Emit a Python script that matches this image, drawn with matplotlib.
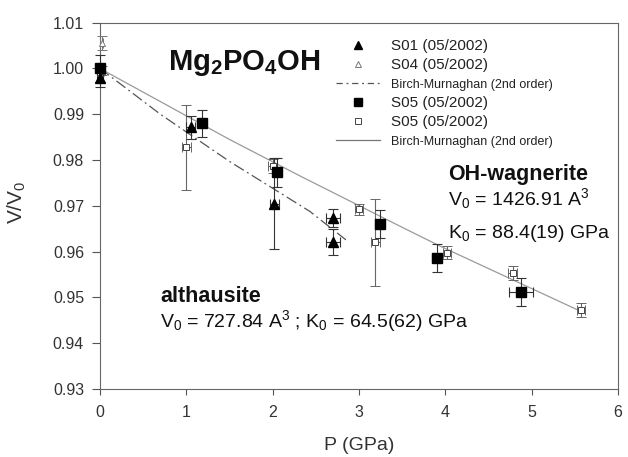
import matplotlib
matplotlib.use("Agg")
import matplotlib.pyplot as plt
from matplotlib.lines import Line2D

plt.rcParams['font.family'] = ['Liberation Sans', 'DejaVu Sans']
plt.rcParams['mathtext.fontset'] = 'custom'
plt.rcParams['mathtext.rm'] = 'Liberation Sans'
plt.rcParams['mathtext.it'] = 'Liberation Sans:italic'
plt.rcParams['mathtext.bf'] = 'Liberation Sans:bold'

# ---- data ----
s01_p = [0.00, 1.05, 2.02, 2.70, 2.70]
s01_v = [0.9980, 0.9872, 0.9705, 0.9673, 0.9621]
s01_yerr = [0.0020, 0.0025, 0.0099, 0.0020, 0.0028]
s01_xerr = [0.03, 0.05, 0.05, 0.08, 0.08]

s04_p = [0.02]
s04_v = [1.0056]
s04_yerr = [0.0015]
s04_xerr = [0.02]

s05f_p = [0.00, 1.18, 2.05, 3.24, 3.90, 4.88]
s05f_v = [1.0000, 0.9880, 0.9773, 0.9660, 0.9586, 0.9512]
s05f_yerr = [0.0030, 0.0030, 0.0032, 0.0030, 0.0030, 0.0030]
s05f_xerr = [0.03, 0.05, 0.05, 0.05, 0.05, 0.14]

s05o_p = [0.02, 1.00, 2.00, 3.00, 3.19, 4.02, 4.78, 5.57]
s05o_v = [0.9995, 0.9828, 0.9787, 0.9693, 0.9620, 0.9598, 0.9553, 0.9473]
s05o_yerr = [0.0010, 0.0093, 0.0015, 0.0012, 0.0095, 0.0015, 0.0015, 0.0015]
s05o_xerr = [0.03, 0.05, 0.05, 0.05, 0.05, 0.05, 0.05, 0.05]

bm_alt_p = [0.0, 0.7, 1.5, 2.43, 2.88]
bm_alt_v = [1.0000, 0.9900, 0.9797, 0.9688, 0.9621]

bm_wag_p = [0.0, 1.5, 2.32, 3.48, 3.94, 5.53]
bm_wag_v = [1.0000, 0.9845, 0.9765, 0.9655, 0.9612, 0.9473]

legend_labels = ["S01 (05/2002)", "S04 (05/2002)", "Birch-Murnaghan (2nd order)",
                 "S05 (05/2002)", "S05 (05/2002)", "Birch-Murnaghan (2nd order)"]

xticks = [0, 1, 2, 3, 4, 5, 6]
yticks = [0.93, 0.94, 0.95, 0.96, 0.97, 0.98, 0.99, 1.00, 1.01]

# ---- figure ----
W, H = 628, 457
fig = plt.figure(figsize=(W / 100, H / 100), dpi=100)
ax = fig.add_axes([100 / W, 1 - 389 / H, 518 / W, (389 - 22.7) / H])

dash_dot = (0, (9, 3, 1.5, 3))
ax.plot(bm_alt_p, bm_alt_v, color='#555555', lw=0.9, ls=dash_dot, zorder=2)
ax.plot(bm_wag_p, bm_wag_v, color='#9a9a9a', lw=0.9, ls='-', zorder=2)

ekw = dict(capsize=3.5, elinewidth=0.8, capthick=0.8, linestyle='none', zorder=3)
conts = []
conts.append(ax.errorbar(s05o_p, s05o_v, yerr=s05o_yerr, xerr=s05o_xerr, marker='s', ms=4.8,
                         mfc='white', mec='#444444', mew=0.7, ecolor='#666666', **ekw))
conts.append(ax.errorbar(s04_p, s04_v, yerr=s04_yerr, xerr=s04_xerr, marker='^', ms=5,
                         mfc='white', mec='#777777', mew=0.7, ecolor='#777777', **ekw))
conts.append(ax.errorbar(s01_p, s01_v, yerr=s01_yerr, xerr=s01_xerr, marker='^', ms=7,
                         mfc='black', mec='black', ecolor='#333333', **ekw))
conts.append(ax.errorbar(s05f_p, s05f_v, yerr=s05f_yerr, xerr=s05f_xerr, marker='s', ms=6.5,
                         mfc='black', mec='black', ecolor='#333333', **ekw))
for c in conts:
    for a in c.get_children():
        a.set_clip_on(False)

ax.set_xlim(0, 6)
ax.set_ylim(0.93, 1.01)
ax.set_xticks(xticks)
ax.set_yticks(yticks)
ax.set_yticklabels([f"{t:.2f}" for t in yticks])
ax.tick_params(axis='both', direction='out', colors='#555555', labelcolor='#333333',
               labelsize=11.5, width=0.8)
ax.tick_params(axis='y', length=5.5, pad=6)
ax.tick_params(axis='x', length=4.5, pad=7)
for s in ax.spines.values():
    s.set_color('#666666')
    s.set_linewidth(0.8)

fig.text(17 / W, 1 - 202 / H, "V/V$_0$", rotation=90, ha='center', va='center',
         fontsize=15, color='#333333')
fig.text(359 / W, 1 - 445 / H, "P (GPa)", ha='center', va='center',
         fontsize=14, color='#333333')

# ---- legend ----
handles = [
    Line2D([], [], ls='none', marker='^', ms=6, mfc='black', mec='black'),
    Line2D([], [], ls='none', marker='^', ms=5, mfc='white', mec='#777777', mew=0.7),
    Line2D([], [], color='#555555', lw=0.9, ls=(0, (5, 3, 1.5, 3))),
    Line2D([], [], ls='none', marker='s', ms=5.5, mfc='black', mec='black'),
    Line2D([], [], ls='none', marker='s', ms=5, mfc='white', mec='#444444', mew=0.7),
    Line2D([], [], color='#777777', lw=0.9, ls='-'),
]
leg = ax.legend(handles, legend_labels, loc='upper left',
                bbox_to_anchor=(336 / W, 1 - 39 / H), bbox_transform=fig.transFigure,
                frameon=False, fontsize=11, handlelength=2.9, handletextpad=0.7,
                labelspacing=0.34, borderpad=0, borderaxespad=0)
for i, t in enumerate(leg.get_texts()):
    t.set_color('#222222')
    if i in (2, 5):
        t.set_fontsize(9)

# ---- annotations ----
fig.text(168 / W, 1 - 70 / H, r"Mg$_\mathbf{2}$PO$_\mathbf{4}$OH", fontsize=21,
         fontweight='bold', ha='left', va='baseline', color='#111111')
fig.text(448 / W, 1 - 180 / H, "OH-wagnerite", fontsize=15.5, fontweight='bold',
         ha='left', va='baseline', color='#111111')
fig.text(448 / W, 1 - 205 / H, r"V$_0$ = 1426.91 A$^3$", fontsize=14,
         ha='left', va='baseline', color='#111111')
fig.text(448 / W, 1 - 238 / H, r"K$_0$ = 88.4(19) GPa", fontsize=14,
         ha='left', va='baseline', color='#111111')
fig.text(160 / W, 1 - 302 / H, "althausite", fontsize=15.5, fontweight='bold',
         ha='left', va='baseline', color='#111111')
fig.text(160 / W, 1 - 327 / H, r"V$_0$ = 727.84 A$^3$ ; K$_0$ = 64.5(62) GPa",
         fontsize=14, ha='left', va='baseline', color='#111111')

fig.savefig("out.png", dpi=100)
